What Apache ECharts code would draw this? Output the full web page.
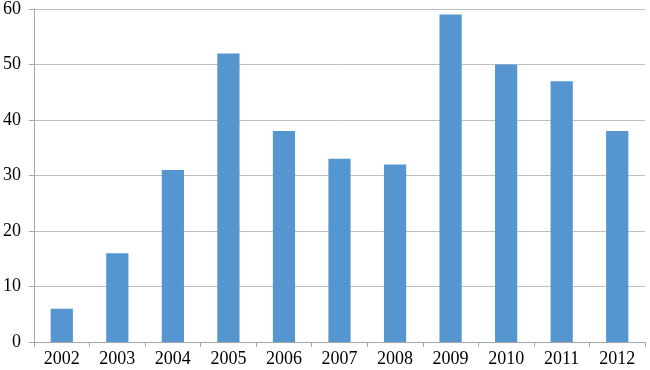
<!DOCTYPE html>
<html>
<head>
<meta charset="utf-8">
<script src="https://cdn.jsdelivr.net/npm/echarts@6/dist/echarts.min.js"></script>
<style>
  html, body { margin: 0; padding: 0; background: #fff; }
  #show { width: 650px; height: 370px; }
</style>
</head>
<body>
<div id="show"></div>
<script>
var years = ['2002', '2003', '2004', '2005', '2006', '2007', '2008', '2009', '2010', '2011', '2012'];
var counts = [6, 16, 31, 52, 38, 33, 32, 59, 50, 47, 38];

var myChart = echarts.init(document.getElementById('show'));

myChart.setOption({
    animation: false,
    grid: {
        left: 33,
        right: 5,
        top: 7,
        bottom: 28,
        containLabel: false
    },
    xAxis: {
        type: 'category',
        data: years,
        axisLine: { lineStyle: { color: '#a6a6a6', width: 1 } },
        axisTick: { show: true, length: 5, alignWithLabel: false, lineStyle: { color: '#a6a6a6' } },
        axisLabel: {
            color: '#000',
            fontFamily: 'Liberation Serif',
            fontSize: 18,
            margin: 8
        }
    },
    yAxis: {
        type: 'value',
        min: 0,
        max: 60,
        interval: 10,
        axisLine: { show: true, lineStyle: { color: '#a6a6a6', width: 1 } },
        axisTick: { show: true, length: 5, lineStyle: { color: '#a6a6a6' } },
        splitLine: { lineStyle: { color: '#bfbfbf', width: 1 } },
        axisLabel: {
            color: '#000',
            fontFamily: 'Liberation Serif',
            fontSize: 18,
            margin: 13
        }
    },
    series: [
        {
            type: 'bar',
            data: counts,
            barWidth: '40%',
            itemStyle: { color: '#5596d0' }
        }
    ]
});
</script>
</body>
</html>
